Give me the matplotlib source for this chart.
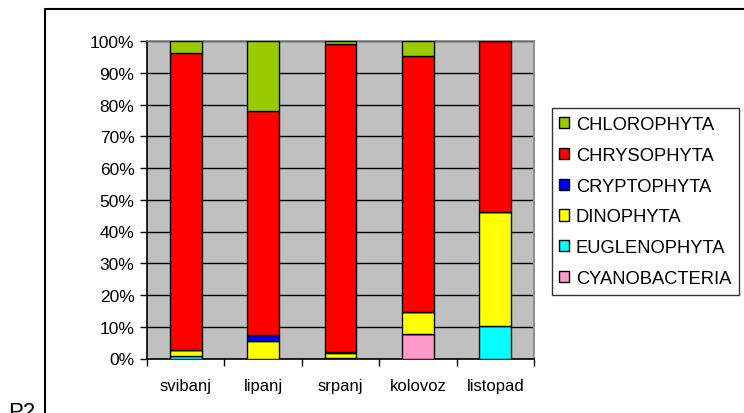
import matplotlib
matplotlib.use("Agg")
import matplotlib.pyplot as plt
import numpy as np
from matplotlib.lines import Line2D
from matplotlib.patches import Patch

plt.rcParams['font.family'] = ['Liberation Sans', 'DejaVu Sans']

months = ["svibanj", "lipanj", "srpanj", "kolovoz", "listopad"]
# stacked from bottom to top (percent)
cyanobacteria = [0.0, 0.0, 0.0, 7.7, 0.0]
euglenophyta  = [0.8, 0.0, 0.3, 0.0, 10.2]
dinophyta     = [1.8, 5.6, 1.3, 7.0, 35.9]
cryptophyta   = [0.0, 1.8, 0.4, 0.0, 0.0]
chrysophyta   = [93.6, 70.5, 97.1, 80.6, 53.9]
chlorophyta   = [3.8, 22.1, 0.9, 4.7, 0.0]

series = [
    ("CYANOBACTERIA", cyanobacteria, "#FF99CC"),
    ("EUGLENOPHYTA", euglenophyta, "#00FFFF"),
    ("DINOPHYTA", dinophyta, "#FFFF00"),
    ("CRYPTOPHYTA", cryptophyta, "#0000FF"),
    ("CHRYSOPHYTA", chrysophyta, "#FF0000"),
    ("CHLOROPHYTA", chlorophyta, "#99CC00"),
]
yticks = [0, 10, 20, 30, 40, 50, 60, 70, 80, 90, 100]
ytick_labels = [f"{v}%" for v in yticks]

W, H = 744, 414
fig = plt.figure(figsize=(W / 100, H / 100), dpi=100)
fig.patch.set_facecolor("white")

# outer chart frame (left and top edges)
fig.add_artist(Line2D([45 / W, 45 / W, 1.0], [0.0, 1 - 10 / H, 1 - 10 / H],
                      transform=fig.transFigure, color="black", lw=1.5))
fig.text(8 / W, 1 - 402 / H, "P2", fontsize=16, va="top", ha="left")

ax = fig.add_axes([147 / W, (H - 359.5) / H, (534 - 147) / W, (359.5 - 42) / H])
ax.set_facecolor("#C0C0C0")

x = np.arange(len(months))
totals = np.zeros(len(months))
for name, vals, col in series:
    vals = np.array(vals, dtype=float)
    ax.bar(x, vals, bottom=totals, width=0.41, color=col, edgecolor="black",
           linewidth=1.0, label=name, zorder=3)
    totals += vals

ax.set_xlim(-0.5, len(months) - 0.5)
ax.set_ylim(0, 100)
ax.set_yticks(yticks)
ax.set_yticklabels(ytick_labels, fontsize=12.5)
ax.yaxis.grid(True, color="black", lw=1.0, zorder=1)
ax.set_axisbelow(True)

ax.set_xticks(x)
ax.set_xticklabels(months, fontsize=12)
ax.tick_params(axis="x", which="major", length=0, pad=14)
ax.set_xticks(np.arange(-0.5, len(months)), minor=True)
ax.tick_params(axis="x", which="minor", length=5, width=1, color="black", direction="out")
ax.tick_params(axis="y", length=5, width=1, direction="out", pad=4)

for sp in ["left", "bottom"]:
    ax.spines[sp].set_color("black")
    ax.spines[sp].set_linewidth(1.2)
for sp in ["top", "right"]:
    ax.spines[sp].set_color("#808080")
    ax.spines[sp].set_linewidth(1.2)

handles = [Patch(facecolor=col, edgecolor="black", lw=1.0, label=name)
           for name, vals, col in reversed(series)]
leg = fig.legend(handles=handles, loc="upper left",
                 bbox_to_anchor=(551.5 / W, 1 - 109 / H), bbox_transform=fig.transFigure,
                 fontsize=13.2, frameon=True, fancybox=False, edgecolor="black",
                 handlelength=0.55, handleheight=0.55, handletextpad=0.35,
                 labelspacing=0.76, borderpad=0.42, borderaxespad=0)
leg.get_frame().set_linewidth(1.0)

fig.savefig("out.png", dpi=100, facecolor="white")
